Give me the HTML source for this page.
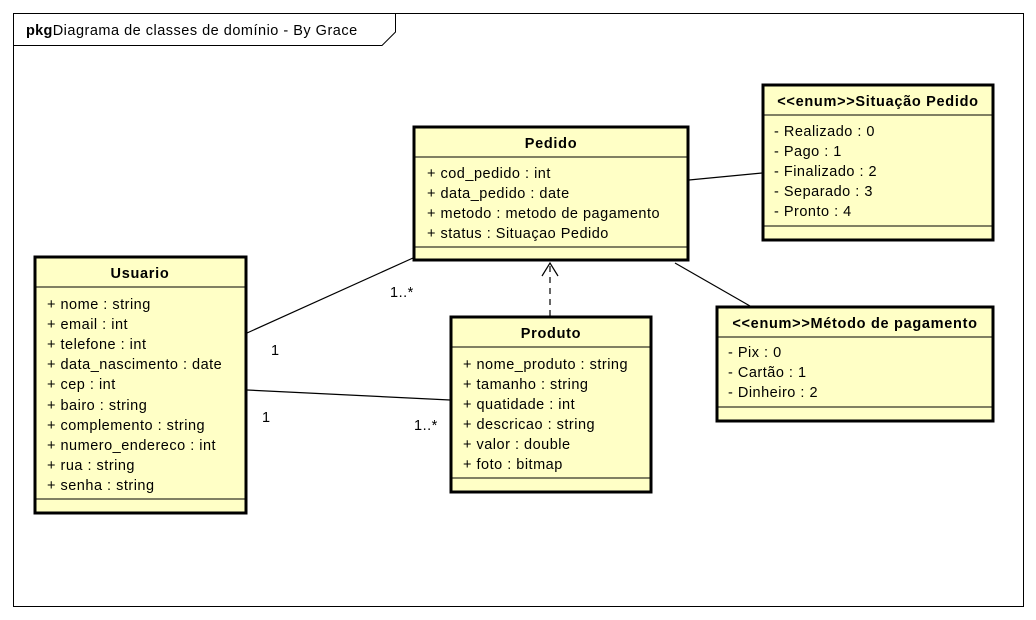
<!DOCTYPE html>
<html><head><meta charset="utf-8"><style>
html,body{margin:0;padding:0;background:#fff;width:1036px;height:620px;overflow:hidden}
svg{display:block}
text{font-family:"Liberation Sans",sans-serif;font-size:14.5px;letter-spacing:0.5px;fill:#000}
.h{font-weight:bold;letter-spacing:0.7px}
.b{fill:#FFFFC6;stroke:#000;stroke-width:3}
.d{stroke:#000;stroke-width:1}
</style></head><body>
<svg width="1036" height="620" viewBox="0 0 1036 620">
<rect x="13.5" y="13.5" width="1010" height="593" fill="#fff" stroke="#000" stroke-width="1"/>
<path d="M13.5 45.5 H382 L395.5 32 V13.5" fill="none" stroke="#000" stroke-width="1"/>
<text x="26" y="35"><tspan class="h" style="letter-spacing:0.3px">pkg</tspan>Diagrama de classes de domínio - By Grace</text>

<g stroke="#000" stroke-width="1.2" fill="none">
<line x1="247" y1="333" x2="413" y2="258"/>
<line x1="247" y1="390" x2="450" y2="400"/>
<line x1="689" y1="180" x2="762" y2="173"/>
<line x1="675" y1="263" x2="750" y2="306"/>
<line x1="550" y1="316" x2="550" y2="263" stroke-dasharray="6,5"/>
<path d="M542 276 L550 263 L558 276"/>
</g>
<text x="390" y="297">1..*</text>
<text x="271" y="355">1</text>
<text x="262" y="422">1</text>
<text x="414" y="430">1..*</text>

<rect class="b" x="414" y="127" width="274" height="133"/>
<line class="d" x1="414" y1="157" x2="688" y2="157"/>
<line class="d" x1="414" y1="247" x2="688" y2="247"/>
<text class="h" x="551" y="148" text-anchor="middle">Pedido</text>
<text x="427" y="178">+ cod_pedido : int</text>
<text x="427" y="198">+ data_pedido : date</text>
<text x="427" y="218">+ metodo : metodo de pagamento</text>
<text x="427" y="238">+ status : Situaçao Pedido</text>

<rect class="b" x="763" y="85" width="230" height="155"/>
<line class="d" x1="763" y1="115" x2="993" y2="115"/>
<line class="d" x1="763" y1="226" x2="993" y2="226"/>
<text class="h" x="878" y="106" text-anchor="middle">&lt;&lt;enum&gt;&gt;Situação Pedido</text>
<text x="774" y="136">- Realizado : 0</text>
<text x="774" y="156">- Pago : 1</text>
<text x="774" y="176">- Finalizado : 2</text>
<text x="774" y="196">- Separado : 3</text>
<text x="774" y="216">- Pronto : 4</text>

<rect class="b" x="717" y="307" width="276" height="114"/>
<line class="d" x1="717" y1="337" x2="993" y2="337"/>
<line class="d" x1="717" y1="407" x2="993" y2="407"/>
<text class="h" x="855" y="328" text-anchor="middle">&lt;&lt;enum&gt;&gt;Método de pagamento</text>
<text x="728" y="357">- Pix : 0</text>
<text x="728" y="377">- Cartão : 1</text>
<text x="728" y="397">- Dinheiro : 2</text>

<rect class="b" x="35" y="257" width="211" height="256"/>
<line class="d" x1="35" y1="287" x2="246" y2="287"/>
<line class="d" x1="35" y1="499" x2="246" y2="499"/>
<text class="h" x="140" y="278" text-anchor="middle">Usuario</text>
<text x="47" y="309">+ nome : string</text>
<text x="47" y="329">+ email : int</text>
<text x="47" y="349">+ telefone : int</text>
<text x="47" y="369">+ data_nascimento : date</text>
<text x="47" y="389">+ cep : int</text>
<text x="47" y="410">+ bairo : string</text>
<text x="47" y="430">+ complemento : string</text>
<text x="47" y="450">+ numero_endereco : int</text>
<text x="47" y="470">+ rua : string</text>
<text x="47" y="490">+ senha : string</text>

<rect class="b" x="451" y="317" width="200" height="175"/>
<line class="d" x1="451" y1="347" x2="651" y2="347"/>
<line class="d" x1="451" y1="478" x2="651" y2="478"/>
<text class="h" x="551" y="338" text-anchor="middle">Produto</text>
<text x="463" y="369">+ nome_produto : string</text>
<text x="463" y="389">+ tamanho : string</text>
<text x="463" y="409">+ quatidade : int</text>
<text x="463" y="429">+ descricao : string</text>
<text x="463" y="449">+ valor : double</text>
<text x="463" y="469">+ foto : bitmap</text>
</svg>
</body></html>
